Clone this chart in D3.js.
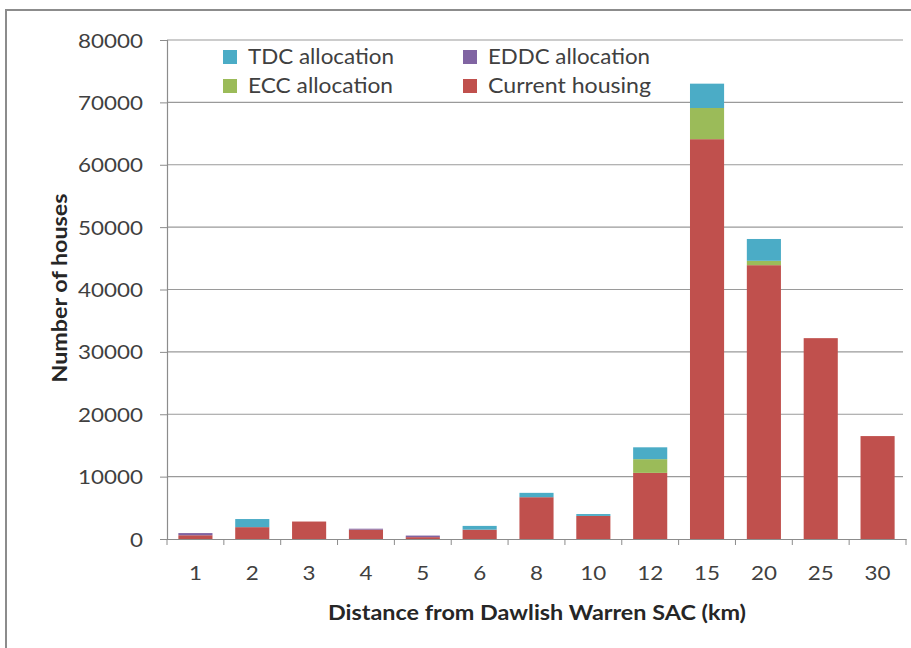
<!DOCTYPE html>
<html><head><meta charset="utf-8">
<script src="https://cdn.jsdelivr.net/npm/d3@7"></script>
<style>body{margin:0;background:#fff}svg{display:block}</style>
</head><body><svg id="c" width="911" height="648"></svg>
<script>
const categories = ["1","2","3","4","5","6","8","10","12","15","20","25","30"];
const currentHousing = [600,1900,2800,1500,300,1500,6700,3700,10600,64100,43900,32200,16500];
const eccAllocation  = [0,0,0,0,0,0,0,0,2200,5000,700,0,0];
const eddcAllocation = [350,0,0,150,250,0,0,0,0,0,0,0,0];
const tdcAllocation  = [0,1300,0,0,0,600,700,300,1900,3900,3500,0,0];
const yTicks = [0,10000,20000,30000,40000,50000,60000,70000,80000];
const seriesNames = ["Current housing","ECC allocation","EDDC allocation","TDC allocation"];
const seriesColors = ["#C0504D","#9BBB59","#8064A2","#4BACC6"];
const legendOrder = [3,2,1,0];

const svg = d3.select("#c");
const font = "Lato, 'Open Sans', sans-serif";
// outer frame
svg.append("rect").attr("x",6).attr("y",10).attr("width",940).attr("height",700)
  .attr("fill","none").attr("stroke","#8c8c8c").attr("stroke-width",2);

const L=167,R=906,T=40,B=539;
const x = d3.scaleBand().domain(categories).range([L,R]).paddingInner(0.4).paddingOuter(0.2);
const y = d3.scaleLinear().domain([0,80000]).range([B,T]);

// gridlines
svg.append("g").selectAll("line").data(yTicks.slice(1)).join("line")
  .attr("x1",L).attr("x2",R-3).attr("y1",d=>y(d)).attr("y2",d=>y(d))
  .attr("stroke","#9a9a9a").attr("stroke-width",1.2);

const rows = categories.map((c,i)=>({cat:c,s0:currentHousing[i],s1:eccAllocation[i],s2:eddcAllocation[i],s3:tdcAllocation[i]}));
const stack = d3.stack().keys(["s0","s1","s2","s3"])(rows);
svg.append("g").selectAll("g").data(stack).join("g")
  .attr("fill",(d,i)=>seriesColors[i])
  .selectAll("rect").data(d=>d).join("rect")
  .attr("x",d=>x(d.data.cat)).attr("width",x.bandwidth())
  .attr("y",d=>y(d[1])).attr("height",d=>y(d[0])-y(d[1]));

// y axis
const ya = svg.append("g").attr("transform",`translate(${L},0)`)
  .call(d3.axisLeft(y).tickValues(yTicks).tickSize(7).tickFormat(d3.format("d")));
ya.select(".domain").attr("stroke","#8c8c8c").attr("stroke-width",1.2);
ya.selectAll(".tick line").attr("stroke","#8c8c8c");
ya.selectAll(".tick text").attr("x",0).attr("dy","0.35em")
  .attr("transform","translate(-24,0) scale(1.12,1)")
  .attr("font-family",font).attr("font-size",20).attr("fill","#404040");

// x axis
const step = x.step();
const xa = svg.append("g").attr("transform",`translate(0,${B})`)
  .call(d3.axisBottom(x).tickSize(0));
xa.select(".domain").attr("stroke","#8c8c8c").attr("stroke-width",1.2);
xa.selectAll(".tick text").attr("y",0).attr("dy","0.35em")
  .attr("transform","translate(0,34) scale(1.12,1)")
  .attr("font-family",font).attr("font-size",20).attr("fill","#404040");
svg.append("g").selectAll("line").data(d3.range(categories.length+1)).join("line")
  .attr("x1",i=>L+i*step).attr("x2",i=>L+i*step).attr("y1",B).attr("y2",B+6)
  .attr("stroke","#8c8c8c");

// titles
svg.append("text").attr("x",537).attr("y",620).attr("text-anchor","middle")
  .attr("font-family",font).attr("font-weight","bold").attr("font-size",21).attr("fill","#262626")
  .attr("textLength",418).attr("lengthAdjust","spacingAndGlyphs")
  .text("Distance from Dawlish Warren SAC (km)");
svg.append("text").attr("transform","translate(67,288) rotate(-90)").attr("text-anchor","middle")
  .attr("font-family",font).attr("font-weight","bold").attr("font-size",21).attr("fill","#262626")
  .attr("textLength",189).attr("lengthAdjust","spacingAndGlyphs")
  .text("Number of houses");

// legend
const lg = svg.append("g");
const legendWidths = [146,162,145,163];
legendOrder.forEach((si,k)=>{
  const col=k%2,row=Math.floor(k/2);
  const gx = col===0?223:463, gy = row===0?57:86;
  lg.append("rect").attr("x",gx).attr("y",gy-7).attr("width",14).attr("height",14).attr("fill",seriesColors[si]);
  lg.append("text").attr("x",gx+25).attr("y",gy+7).attr("font-family",font).attr("font-size",21)
    .attr("textLength",legendWidths[k]).attr("lengthAdjust","spacingAndGlyphs")
    .attr("fill","#404040").text(seriesNames[si]);
});
</script></body></html>
